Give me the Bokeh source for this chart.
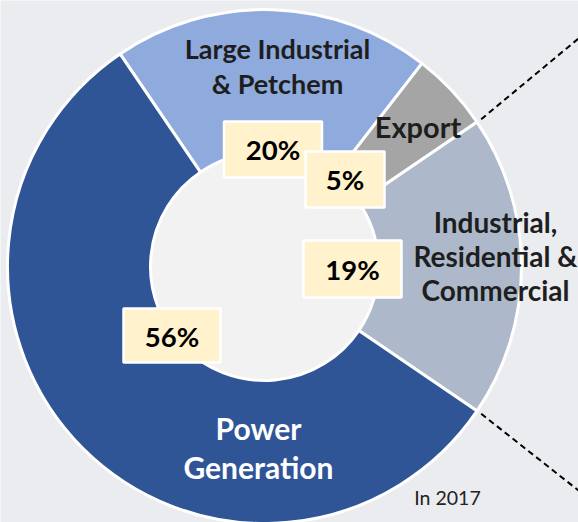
import numpy as np
from bokeh.plotting import figure
from bokeh.models import ColumnDataSource, Range1d
from bokeh.core.properties import value
from bokeh.embed import file_html
from bokeh.resources import INLINE

# ---------------- data ----------------
categories = ["Large Industrial\n& Petchem", "Export",
              "Industrial,\nResidential &\nCommercial", "Power\nGeneration"]
shares = [20, 5, 19, 56]
share_labels = ["20%", "5%", "19%", "56%"]
note = "In 2017"

# ---------------- style / layout ----------------
W, H = 578, 522
CX, CY = 264, 266            # donut centre (pixels, y measured downward)
R_OUT, R_IN = 257, 114
START_DEG = -34.2            # first slice starts here, clockwise from 12 o'clock
slice_colors = ["#8faadc", "#a5a5a5", "#adb9ca", "#2f5597"]
FONT = "Lato"
DARK = "#1e1e1e"
DY = -11                     # baseline correction

# category label layout: centre x, first baseline y, line step, size, colour
cat_layout = [
    (277, 59, 34.5, "27px", DARK),
    (417.5, 137, 0, "29px", DARK),
    (495, 232, 34.3, "28px", DARK),
    (258, 438, 39, "30px", "white"),
]
# percentage box layout: centre x, centre y, width, height, text baseline y
box_layout = [
    (272.5, 149, 100, 58, 160),
    (344.5, 179, 81, 58, 190),
    (352, 268.5, 100, 59, 280),
    (171.5, 335, 99, 56, 347),
]


def Y(y):
    return H - y


p = figure(width=W, height=H, x_range=Range1d(0, W), y_range=Range1d(0, H),
           output_backend="svg", toolbar_location=None, min_border=0)
p.axis.visible = False
p.grid.visible = False
p.outline_line_color = None
p.background_fill_color = "#ebecef"
p.border_fill_color = "#ebecef"

# donut
cum = np.cumsum([0] + shares)
total = cum[-1]
theta0 = START_DEG + 360.0 * cum[:-1] / total
theta1 = START_DEG + 360.0 * cum[1:] / total
src = ColumnDataSource(dict(
    start=np.radians(90 - theta0),
    end=np.radians(90 - theta1),
    color=slice_colors,
))
p.circle(x=CX, y=Y(CY), radius=R_IN, fill_color="#f2f2f2", line_color=None)
p.annular_wedge(x=CX, y=Y(CY), inner_radius=R_IN, outer_radius=R_OUT,
                start_angle="start", end_angle="end", direction="clock",
                fill_color="color", line_color="white", line_width=3, source=src)

# dashed leader lines from the outer edge at the Export / IRC boundaries
for th, y_end in [(theta1[1], 38), (theta1[2], 490)]:
    r = R_OUT + 5
    x0 = CX + r * np.sin(np.radians(th))
    y0 = CY - r * np.cos(np.radians(th))
    p.line([x0, W], [Y(y0), Y(y_end)], line_color="black", line_width=2,
           line_dash="6 4")

# category labels
for cat, (x, y, step, size, col) in zip(categories, cat_layout):
    for i, line in enumerate(cat.split("\n")):
        p.text(x=[x], y=[Y(y + i * step + DY)], text=[line], text_font=value(FONT),
               text_font_style="bold", text_font_size=size, text_color=col,
               text_align="center", text_baseline="alphabetic")

# percentage boxes
for lab, (x, y, w, h, yb) in zip(share_labels, box_layout):
    p.rect(x=[x], y=[Y(y)], width=w - 2, height=h - 2, fill_color="#fff2cc",
           line_color="white", line_width=2.5)
    p.text(x=[x], y=[Y(yb + DY)], text=[lab], text_font=value(FONT),
           text_font_style="bold", text_font_size="27.5px", text_color="black",
           text_align="center", text_baseline="alphabetic")

p.text(x=[447], y=[Y(507 + DY + 1)], text=[note], text_font=value(FONT),
       text_font_size="19.5px", text_color="#222222", text_align="center",
       text_baseline="alphabetic")

open("out.html", "w").write(file_html(p, INLINE))
